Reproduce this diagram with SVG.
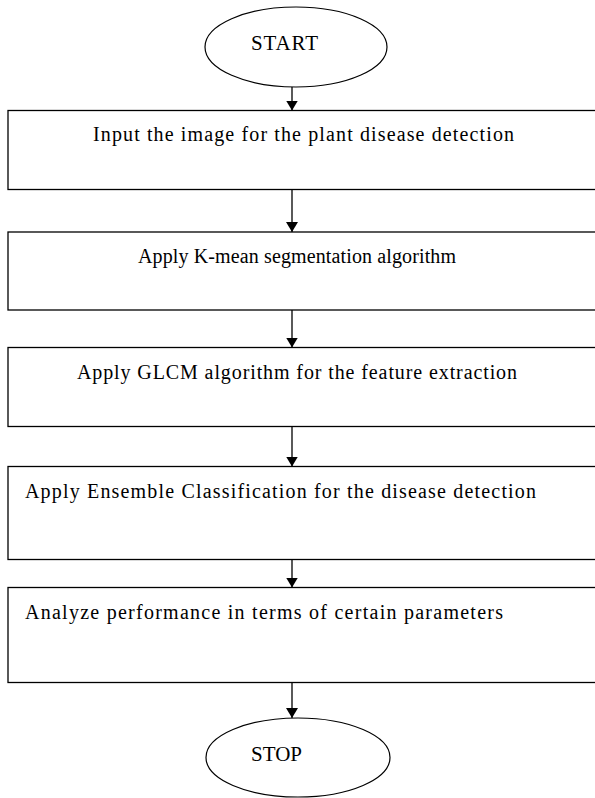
<svg xmlns="http://www.w3.org/2000/svg" width="595" height="798" viewBox="0 0 595 798">
<defs>
<marker id="ah" viewBox="0 0 10 12" refX="10" refY="6" markerWidth="10" markerHeight="12" markerUnits="userSpaceOnUse" orient="auto">
<path d="M0,0 L10,6 L0,12 Z" fill="#000"/>
</marker>
<style>
.box{fill:#fff;stroke:#000;stroke-width:1.3}
.term{fill:#fff;stroke:#000;stroke-width:1.2}
.t{font-family:"Liberation Serif","Times New Roman",serif;font-size:20px;fill:#000}
.tt{font-family:"Liberation Serif","Times New Roman",serif;font-size:21px;fill:#000}
.c{stroke:#000;stroke-width:1.3;fill:none;marker-end:url(#ah)}
</style>
</defs>
<rect width="595" height="798" fill="#fff"/>
<g id="connectors">
<line class="c" x1="292" y1="87" x2="292" y2="110.5"/>
<line class="c" x1="292" y1="189.5" x2="292" y2="232"/>
<line class="c" x1="292" y1="310" x2="292" y2="347.5"/>
<line class="c" x1="292" y1="427" x2="292" y2="466.5"/>
<line class="c" x1="292" y1="559.5" x2="292" y2="587.5"/>
<line class="c" x1="292" y1="682.5" x2="292" y2="718"/>
</g>
<g id="start">
<ellipse class="term" cx="296" cy="47" rx="91" ry="40"/>
<text class="tt" x="251" y="50" textLength="67">START</text>
</g>
<g id="step1">
<rect class="box" x="8" y="110.5" width="600" height="79"/>
<text class="t" x="93" y="141" textLength="421">Input the image for the plant disease detection</text>
</g>
<g id="step2">
<rect class="box" x="8" y="232" width="600" height="78"/>
<text class="t" x="138" y="263" textLength="318">Apply K-mean segmentation algorithm</text>
</g>
<g id="step3">
<rect class="box" x="8" y="347.5" width="600" height="79"/>
<text class="t" x="77" y="379" textLength="440">Apply GLCM algorithm for the feature extraction</text>
</g>
<g id="step4">
<rect class="box" x="8" y="466.5" width="600" height="93"/>
<text class="t" x="25" y="498" textLength="511">Apply Ensemble Classification for the disease detection</text>
</g>
<g id="step5">
<rect class="box" x="8" y="587.5" width="600" height="95"/>
<text class="t" x="25" y="619" textLength="478">Analyze performance in terms of certain parameters</text>
</g>
<g id="stop">
<ellipse class="term" cx="298" cy="757.5" rx="92" ry="39.5"/>
<text class="tt" x="251" y="761" textLength="51">STOP</text>
</g>
</svg>
